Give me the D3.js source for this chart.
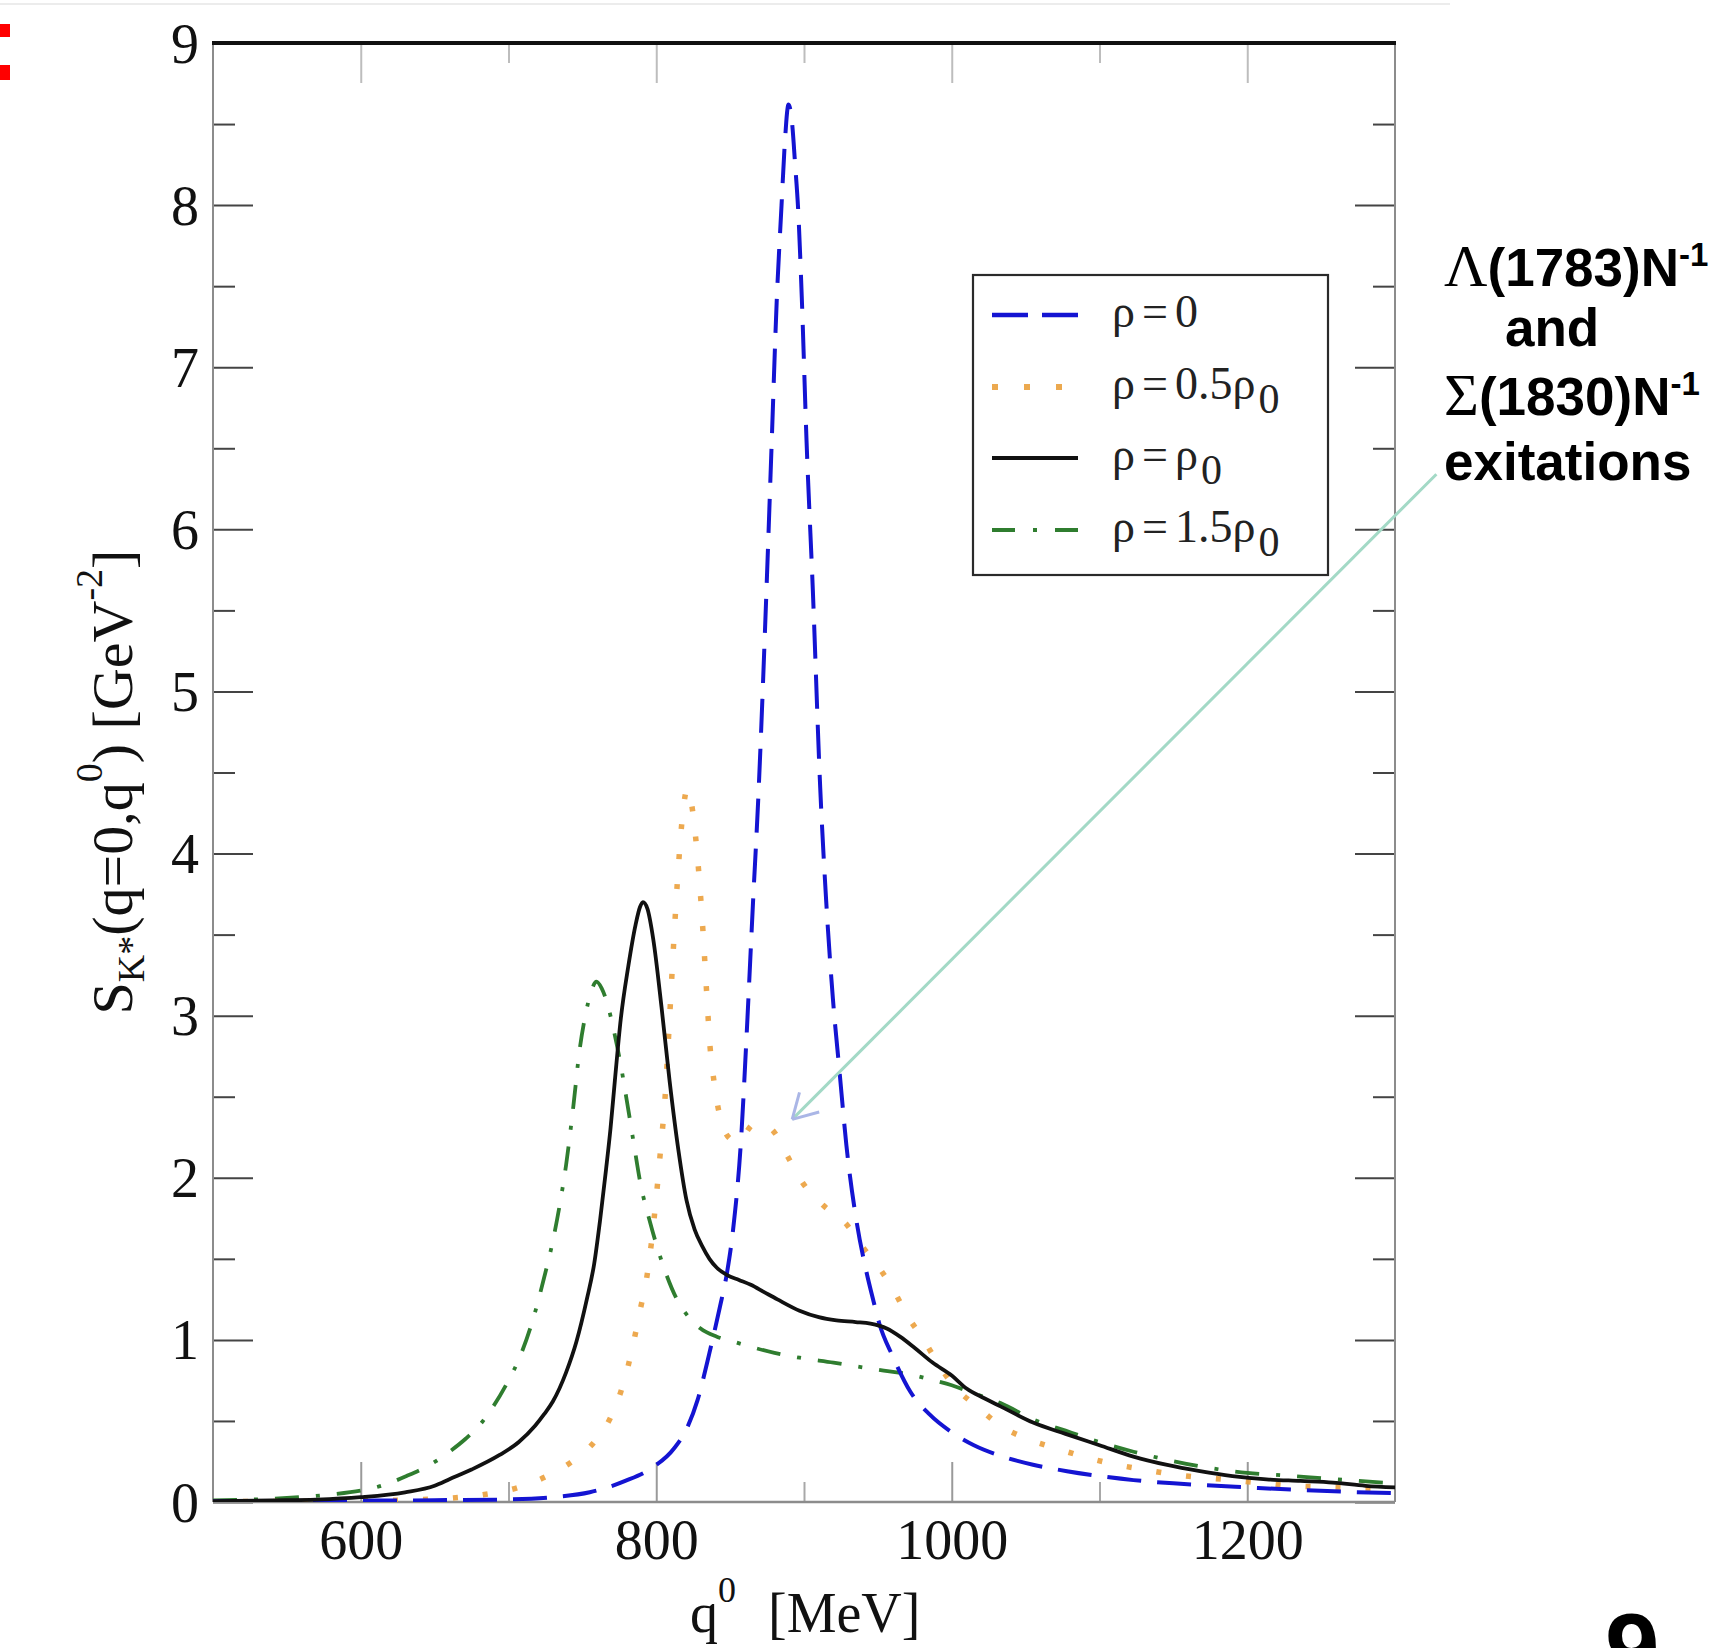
<!DOCTYPE html>
<html><head><meta charset="utf-8">
<script src="https://cdn.jsdelivr.net/npm/d3@7"></script>
<style>html,body{margin:0;padding:0;background:#fff;overflow:hidden}svg{display:block}</style>
</head><body>
<script>
// ---------- data ----------
const xMajorTicks = [600, 800, 1000, 1200];
const xMinorTicks = [700, 900, 1100];
const yMajorTicks = [0, 1, 2, 3, 4, 5, 6, 7, 8, 9];
const yMinorTicks = [0.5, 1.5, 2.5, 3.5, 4.5, 5.5, 6.5, 7.5, 8.5];

// rho = 0 (blue dashed)
const rho0 = [[500,0.004],[550,0.006],[600,0.008],[650,0.011],[700,0.016],[730,0.03],[755,0.06],[779,0.13],[797,0.21],[812,0.33],[821,0.46],[828,0.63],[836,0.92],[843,1.2],[848,1.42],[852,1.68],[857.5,2.25],[861,2.85],[865.5,3.7],[869,4.33],[874.5,5.6],[878,6.5],[881.5,7.4],[884.8,8.0],[887,8.38],[889.5,8.62],[892,8.5],[894,8.25],[896,7.98],[898.5,7.43],[901.7,6.55],[906,5.62],[911,4.4],[915,3.71],[919.6,3.1],[924,2.66],[928.7,2.2],[935.4,1.74],[942,1.43],[947,1.24],[951,1.1],[960,0.9],[972,0.68],[985,0.54],[1000,0.43],[1015,0.35],[1033,0.285],[1055,0.23],[1078,0.19],[1100,0.16],[1123,0.135],[1150,0.115],[1168,0.105],[1200,0.09],[1236,0.074],[1270,0.062],[1300,0.055]];

// rho = 0.5 rho0 (orange dotted)
const rho05 = [[500,0.002],[550,0.004],[600,0.008],[650,0.018],[686,0.05],[707,0.09],[726,0.16],[743,0.25],[758,0.37],[769,0.52],[776,0.68],[781,0.84],[785,1.0],[789,1.18],[793.5,1.38],[797,1.62],[800,1.88],[803,2.18],[806,2.5],[809,2.98],[812,3.48],[815,3.92],[818,4.25],[821,4.4],[824,4.3],[827.5,4.02],[831.7,3.51],[834,3.16],[836.4,2.81],[839,2.6],[841.5,2.45],[845,2.32],[850,2.24],[855,2.22],[860,2.27],[866,2.33],[872,2.33],[880,2.28],[889,2.13],[899,1.97],[913,1.83],[929,1.71],[940,1.57],[952,1.43],[961,1.3],[970.6,1.14],[981,1.0],[991,0.85],[1001,0.72],[1017,0.59],[1033,0.47],[1051,0.39],[1071,0.33],[1089,0.28],[1109,0.235],[1130,0.2],[1150,0.17],[1190,0.135],[1231,0.1],[1265,0.09],[1300,0.08]];

// rho = rho0 (black solid)
const rho1 = [[500,0.005],[540,0.01],[570,0.015],[600,0.03],[630,0.06],[650,0.1],[660,0.14],[675,0.2],[694,0.29],[707,0.37],[718,0.47],[724,0.54],[730,0.62],[739,0.8],[746,0.99],[753,1.25],[758,1.47],[762,1.74],[766,2.05],[769,2.3],[772,2.6],[776,2.98],[781,3.3],[786,3.56],[789,3.67],[791,3.7],[794,3.66],[798,3.47],[803.6,3.05],[809,2.6],[815,2.17],[820.5,1.86],[826,1.68],[831,1.58],[836,1.5],[841,1.445],[848,1.4],[856,1.37],[864,1.34],[873,1.295],[882,1.25],[897,1.18],[910,1.14],[922,1.12],[935,1.11],[945,1.1],[956,1.07],[965,1.02],[975,0.95],[987,0.86],[1000,0.78],[1010,0.7],[1022,0.64],[1033,0.59],[1055,0.49],[1077,0.42],[1100,0.35],[1123,0.28],[1145,0.23],[1168,0.19],[1190,0.16],[1213,0.14],[1236,0.13],[1258,0.12],[1280,0.1],[1300,0.09]];

// rho = 1.5 rho0 (green dash-dot)
const rho15 = [[500,0.01],[550,0.025],[578,0.045],[600,0.07],[614,0.1],[631,0.16],[647,0.23],[660,0.31],[671,0.39],[680,0.47],[689,0.58],[700,0.75],[707,0.88],[717,1.14],[724,1.38],[730,1.61],[735,1.85],[739,2.08],[744,2.45],[748,2.78],[752,3.0],[756,3.15],[759.5,3.21],[763,3.17],[767,3.07],[771,2.92],[775.5,2.72],[780,2.48],[785,2.2],[789,1.98],[796,1.72],[805,1.45],[814,1.25],[822,1.14],[830,1.07],[841,1.02],[852,0.99],[863,0.96],[880,0.92],[897,0.89],[920,0.86],[940,0.83],[954,0.81],[970,0.79],[988,0.75],[1000,0.72],[1015,0.67],[1033,0.61],[1055,0.51],[1077,0.44],[1100,0.37],[1123,0.31],[1146,0.26],[1168,0.22],[1200,0.18],[1224,0.165],[1260,0.14],[1300,0.115]];

const seriesNames = ["ρ=0", "ρ=0.5ρ", "ρ=ρ", "ρ=1.5ρ"];
const seriesSubs = ["", "0", "0", "0"];
const annotationLines = ["(1783)N", "and", "(1830)N", "exitations"];
const arrowFrom = [1328, 6.34];
const arrowTo = [892, 2.36];

// ---------- layout ----------
const W = 1722, H = 1648;
const L = 213, R = 1395, T = 43, B = 1502;
const serif = "'Liberation Serif','Times New Roman',serif";
const sans = "'Liberation Sans',Arial,sans-serif";

const svg = d3.select("body").append("svg").attr("width", W).attr("height", H)
  .style("background", "#fff");

const x = d3.scaleLinear().domain([500, 1300]).range([L, R]);
const y = d3.scaleLinear().domain([0, 9]).range([B, T]);

// faint slide line at top
svg.append("line").attr("x1", 0).attr("x2", 1450).attr("y1", 4).attr("y2", 4)
  .attr("stroke", "#ececec").attr("stroke-width", 2);

// red cut-off mark top-left
svg.append("rect").attr("x", 0).attr("y", 24).attr("width", 10).attr("height", 13).attr("fill", "#ff0000");
svg.append("rect").attr("x", 0).attr("y", 65).attr("width", 10).attr("height", 15).attr("fill", "#ff0000");

// ---------- axes ----------
function styleAxis(g, col) {
  g.select(".domain").remove();
  g.selectAll(".tick line").attr("stroke", col).attr("stroke-width", 2);
  g.selectAll("text").attr("font-family", serif).attr("font-size", 56).attr("fill", "#111");
}
const gxB = svg.append("g").attr("transform", `translate(0,${B})`)
  .call(d3.axisBottom(x).tickValues(xMajorTicks).tickSize(-40).tickPadding(17).tickFormat(d3.format("d")));
styleAxis(gxB, "#9a9a9a");
const gxBm = svg.append("g").attr("transform", `translate(0,${B})`)
  .call(d3.axisBottom(x).tickValues(xMinorTicks).tickSize(-20).tickFormat(""));
styleAxis(gxBm, "#a8a8a8");
const gxT = svg.append("g").attr("transform", `translate(0,${T})`)
  .call(d3.axisTop(x).tickValues(xMajorTicks).tickSize(-40).tickFormat(""));
styleAxis(gxT, "#bdbdbd");
const gxTm = svg.append("g").attr("transform", `translate(0,${T})`)
  .call(d3.axisTop(x).tickValues(xMinorTicks).tickSize(-20).tickFormat(""));
styleAxis(gxTm, "#bdbdbd");

const gyL = svg.append("g").attr("transform", `translate(${L},0)`)
  .call(d3.axisLeft(y).tickValues(yMajorTicks).tickSize(-40).tickPadding(14).tickFormat(d3.format("d")));
styleAxis(gyL, "#444");
gyL.selectAll("text").attr("dy", "0.34em");
const gyLm = svg.append("g").attr("transform", `translate(${L},0)`)
  .call(d3.axisLeft(y).tickValues(yMinorTicks).tickSize(-22).tickFormat(""));
styleAxis(gyLm, "#444");
const gyR = svg.append("g").attr("transform", `translate(${R},0)`)
  .call(d3.axisRight(y).tickValues(yMajorTicks).tickSize(-40).tickFormat(""));
styleAxis(gyR, "#444");
const gyRm = svg.append("g").attr("transform", `translate(${R},0)`)
  .call(d3.axisRight(y).tickValues(yMinorTicks).tickSize(-22).tickFormat(""));
styleAxis(gyRm, "#444");

// frame
svg.append("line").attr("x1", L).attr("x2", L).attr("y1", T).attr("y2", B).attr("stroke", "#8c8c8c").attr("stroke-width", 2);
svg.append("line").attr("x1", R).attr("x2", R).attr("y1", T).attr("y2", B).attr("stroke", "#8c8c8c").attr("stroke-width", 2);
svg.append("line").attr("x1", L).attr("x2", R).attr("y1", B).attr("y2", B).attr("stroke", "#8c8c8c").attr("stroke-width", 2.5);
svg.append("line").attr("x1", L - 1).attr("x2", R + 1).attr("y1", T).attr("y2", T).attr("stroke", "#111").attr("stroke-width", 4);

// ---------- curves ----------
svg.append("clipPath").attr("id", "plotclip").append("rect")
  .attr("x", L).attr("y", T).attr("width", R - L).attr("height", B - T);
const line = d3.line().x(d => x(d[0])).y(d => y(d[1])).curve(d3.curveMonotoneX);
const styles = [
  {data: rho15, color: "#2f7d2f", width: 3.8, dash: "24,17,4,17", cap: "butt", op: 1},
  {data: rho05, color: "#eba03c", width: 5.5, dash: "5,25", cap: "butt", op: 0.9},
  {data: rho0,  color: "#1414d2", width: 4, dash: "34,16", cap: "butt", op: 1},
  {data: rho1,  color: "#111111", width: 3.8, dash: null, cap: "round", op: 1}
];
const cg = svg.append("g").attr("clip-path", "url(#plotclip)");
styles.forEach(s => {
  cg.append("path").datum(s.data).attr("d", line)
    .attr("fill", "none").attr("stroke", s.color).attr("stroke-width", s.width)
    .attr("stroke-dasharray", s.dash).attr("stroke-linecap", s.cap)
    .attr("stroke-linejoin", "round").attr("opacity", s.op);
});

// ---------- legend ----------
const lg = svg.append("g");
lg.append("rect").attr("x", 973).attr("y", 275).attr("width", 355).attr("height", 300)
  .attr("fill", "#fff").attr("stroke", "#2a2a2a").attr("stroke-width", 2.2);
const legendStyle = [
  {color: "#1414d2", width: 4.5, dash: "36,14", op: 1},
  {color: "#eba03c", width: 6, dash: "6,26", op: 0.9},
  {color: "#111", width: 4, dash: null, op: 1},
  {color: "#2f7d2f", width: 4, dash: "23,18,4,18", op: 1}
];
const rowY = [315, 387, 458, 530];
seriesNames.forEach((nm, i) => {
  const st = legendStyle[i];
  lg.append("line").attr("x1", 992).attr("x2", 1078).attr("y1", rowY[i]).attr("y2", rowY[i])
    .attr("stroke", st.color).attr("stroke-width", st.width).attr("stroke-dasharray", st.dash)
    .attr("opacity", st.op);
  const t = lg.append("text").attr("x", 1112).attr("y", rowY[i] + 12)
    .attr("font-family", serif).attr("font-size", 46).attr("fill", "#222");
  const eq = nm.indexOf("=");
  t.append("tspan").text(nm.slice(0, eq));
  t.append("tspan").attr("dx", 7).text("=");
  t.append("tspan").attr("dx", 7).text(nm.slice(eq + 1));
  if (seriesSubs[i]) t.append("tspan").attr("dx", 3).attr("dy", 14).attr("font-size", 42).text(seriesSubs[i]);
});

// ---------- axis titles ----------
const xt = svg.append("text").attr("x", 690).attr("y", 1632)
  .attr("font-family", serif).attr("font-size", 56).attr("fill", "#111");
xt.append("tspan").text("q");
xt.append("tspan").attr("dy", -30).attr("font-size", 36).text("0");
xt.append("tspan").attr("dy", 30).attr("dx", 18).text(" [MeV]");

const yt = svg.append("text").attr("transform", "translate(132,782) rotate(-90)")
  .attr("text-anchor", "middle").attr("font-family", serif).attr("font-size", 58).attr("fill", "#111");
yt.append("tspan").text("S");
yt.append("tspan").attr("dy", 12).attr("font-size", 38).text("K*");
yt.append("tspan").attr("dy", -12).text("(q=0,q");
yt.append("tspan").attr("dy", -30).attr("font-size", 38).text("0");
yt.append("tspan").attr("dy", 30).text(") [GeV");
yt.append("tspan").attr("dy", -30).attr("font-size", 38).text("-2");
yt.append("tspan").attr("dy", 30).text("]");

// ---------- annotation ----------
const ann = svg.append("g").attr("font-family", sans).attr("font-weight", "bold").attr("font-size", 53).attr("fill", "#000");
function annLine(xp, yp, greek, txt, sup) {
  const t = ann.append("text").attr("x", xp).attr("y", yp);
  if (greek) t.append("tspan").attr("font-family", serif).attr("font-weight", "normal").attr("font-size", 60).text(greek);
  t.append("tspan").text(txt);
  if (sup) t.append("tspan").attr("dy", -20).attr("font-size", 33).text(sup);
}
annLine(1444, 286, "Λ", annotationLines[0], "-1");
annLine(1505, 346, null, annotationLines[1], null);
annLine(1444, 415, "Σ", annotationLines[2], "-1");
annLine(1444, 480, null, annotationLines[3], null);

// arrow (in data coordinates)
const ax1 = x(arrowFrom[0]), ay1 = y(arrowFrom[1]), ax2 = x(arrowTo[0]), ay2 = y(arrowTo[1]);
svg.append("line").attr("x1", ax1).attr("y1", ay1).attr("x2", ax2).attr("y2", ay2)
  .attr("stroke", "#a3d9c6").attr("stroke-width", 3);
const ang = Math.atan2(ay1 - ay2, ax1 - ax2);
[-0.52, 0.52].forEach(da => {
  svg.append("line").attr("x1", ax2).attr("y1", ay2)
    .attr("x2", ax2 + 28 * Math.cos(ang + da)).attr("y2", ay2 + 28 * Math.sin(ang + da))
    .attr("stroke", "#aab6e6").attr("stroke-width", 3);
});

// slide page number (cut off at the bottom edge, as in the reference)
svg.append("text").attr("x", 1605).attr("y", 1682).attr("font-family", sans).attr("font-weight", "bold")
  .attr("font-size", 98).attr("fill", "#000").text("9");
</script>
</body></html>
